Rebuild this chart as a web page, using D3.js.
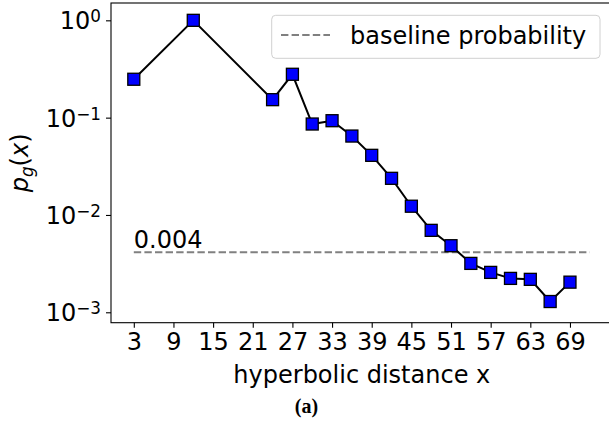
<!DOCTYPE html>
<html>
<head>
<meta charset="utf-8">
<script src="https://cdn.jsdelivr.net/npm/d3@7"></script>
<style>
  html, body { margin: 0; padding: 0; background: #fff; }
  svg { display: block; }
  text { font-family: "DejaVu Sans", sans-serif; fill: #000; }
</style>
</head>
<body>
<svg id="chart" width="609" height="423"></svg>
<script>
// ---- data ----
const distances = [3, 12, 24, 27, 30, 33, 36, 39, 42, 45, 48, 51, 54, 57, 60, 63, 66, 69];
const probabilities = [0.248, 1.0, 0.153, 0.279, 0.086, 0.093, 0.0647, 0.041, 0.0238, 0.0123,
                       0.00695, 0.00483, 0.00318, 0.00257, 0.00223, 0.00218, 0.00129, 0.00204];
const baselineValue = 0.00413;
const baselineLabel = "0.004";
const baselineRange = [3, 72];
const xTickValues = [3, 9, 15, 21, 27, 33, 39, 45, 51, 57, 63, 69];
const yTickExponents = [0, -1, -2, -3];
const xLabel = "hyperbolic distance x";
const legendLabel = "baseline probability";
const caption = "(a)";

// ---- layout ----
const L = 111, R = 612.6, T = 3, B = 322.7;
const svg = d3.select("#chart");

const x = d3.scaleLinear().domain([-0.45, 75.45]).range([L, R]);
const y = d3.scaleLog().domain([Math.pow(10, -3.107), Math.pow(10, 0.178)]).range([B, T]);

const fs = 24;

// spines
svg.append("rect").attr("x", L).attr("y", T).attr("width", R - L).attr("height", B - T)
  .attr("fill", "none").attr("stroke", "#000").attr("stroke-width", 1.1);

// x axis
const xAxis = svg.append("g").attr("transform", `translate(0,${B})`)
  .call(d3.axisBottom(x).tickValues(xTickValues).tickSize(5).tickPadding(5).tickFormat(d3.format("d")));
xAxis.select(".domain").remove();
xAxis.selectAll(".tick line").attr("stroke", "#000").attr("stroke-width", 1.1);
xAxis.selectAll(".tick text").style("font-size", fs + "px").style("font-family", "DejaVu Sans").attr("fill", "#000");

// y axis
const yAxis = svg.append("g").attr("transform", `translate(${L},0)`)
  .call(d3.axisLeft(y).tickValues(yTickExponents.map(e => Math.pow(10, e))).tickSize(5).tickPadding(5).tickFormat(""));
yAxis.select(".domain").remove();
yAxis.selectAll(".tick line").attr("stroke", "#000").attr("stroke-width", 1.1);
yAxis.selectAll(".tick text").each(function (d) {
  const e = Math.round(Math.log10(d));
  const t = d3.select(this).style("font-size", fs + "px").style("font-family", "DejaVu Sans")
    .attr("fill", "#000").attr("dy", "0.36em").attr("x", -10);
  t.text("10");
  t.append("tspan").attr("dy", "-0.42em").style("font-size", (fs * 0.7) + "px")
    .text(e < 0 ? "\u2212" + Math.abs(e) : String(e));
});

// baseline dashed line
svg.append("line")
  .attr("x1", x(baselineRange[0])).attr("x2", x(baselineRange[1]))
  .attr("y1", y(baselineValue)).attr("y2", y(baselineValue))
  .attr("stroke", "#808080").attr("stroke-width", 2).attr("stroke-dasharray", "7.4,3.2");
svg.append("text").attr("x", x(baselineRange[0])).attr("y", y(baselineValue) - 4)
  .style("font-size", fs + "px").text(baselineLabel);

// data line
const pts = distances.map((d, i) => [d, probabilities[i]]);
svg.append("path").datum(pts)
  .attr("d", d3.line().x(d => x(d[0])).y(d => y(d[1])))
  .attr("fill", "none").attr("stroke", "#000").attr("stroke-width", 2);

// markers
const ms = 12;
svg.selectAll("rect.mk").data(pts).enter().append("rect").attr("class", "mk")
  .attr("x", d => x(d[0]) - ms / 2).attr("y", d => y(d[1]) - ms / 2)
  .attr("width", ms).attr("height", ms)
  .attr("fill", "#0000ff").attr("stroke", "#000").attr("stroke-width", 1.3);

// legend
const lg = svg.append("g");
lg.append("rect").attr("x", 271.7).attr("y", 15.3).attr("width", 328.3).attr("height", 43)
  .attr("rx", 4).attr("fill", "#fff").attr("fill-opacity", 0.8)
  .attr("stroke", "#d0d0d0").attr("stroke-width", 1);
lg.append("line").attr("x1", 281).attr("x2", 330).attr("y1", 35).attr("y2", 35)
  .attr("stroke", "#808080").attr("stroke-width", 2).attr("stroke-dasharray", "7.4,3.2");
lg.append("text").attr("x", 350).attr("y", 44).style("font-size", fs + "px").text(legendLabel);

// axis labels
svg.append("text").attr("x", (L + R) / 2).attr("y", 383).attr("text-anchor", "middle")
  .style("font-size", fs + "px").text(xLabel);

const yl = svg.append("text").attr("transform", `translate(28,${(T + B) / 2}) rotate(-90)`)
  .attr("text-anchor", "middle").style("font-size", fs + "px");
yl.append("tspan").style("font-style", "italic").text("p");
yl.append("tspan").attr("dy", "0.3em").style("font-size", (fs * 0.7) + "px").style("font-style", "italic").text("g");
yl.append("tspan").attr("dy", "-0.21em").text("(");
yl.append("tspan").style("font-style", "italic").text("x");
yl.append("tspan").text(")");

// caption
svg.append("text").attr("x", 306.5).attr("y", 413).attr("text-anchor", "middle")
  .style("font-family", "'Liberation Serif', 'DejaVu Serif', serif").style("font-weight", "bold").style("font-size", "20px")
  .text(caption);
</script>
</body>
</html>
